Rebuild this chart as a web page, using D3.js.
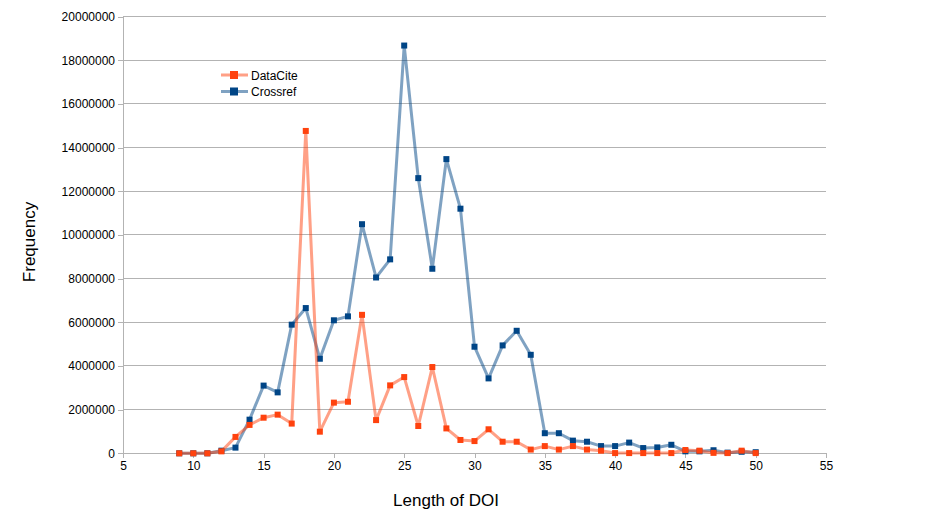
<!DOCTYPE html>
<html><head><meta charset="utf-8">
<script src="https://cdn.jsdelivr.net/npm/d3@7"></script>
<style>body{margin:0;background:#fff}svg{display:block;font-family:"Liberation Sans",Arial,sans-serif}</style>
</head><body><svg id="c" width="943" height="530"></svg>
<script>
const lengths = [9,10,11,12,13,14,15,16,17,18,19,20,21,22,23,24,25,26,27,28,29,30,31,32,33,34,35,36,37,38,39,40,41,42,43,44,45,46,47,48,49,50];
const dataciteValues = [0,0,0,90000,750000,1300000,1630000,1770000,1360000,14760000,990000,2320000,2360000,6340000,1520000,3110000,3490000,1250000,3950000,1140000,610000,560000,1100000,530000,530000,170000,330000,170000,330000,170000,120000,10000,10000,10000,10000,10000,150000,120000,20000,10000,120000,10000];
const crossrefValues = [0,0,0,120000,260000,1540000,3100000,2790000,5890000,6650000,4330000,6090000,6270000,10490000,8050000,8880000,18670000,12600000,8450000,13470000,11200000,4880000,3430000,4940000,5610000,4510000,920000,920000,580000,530000,330000,330000,490000,240000,270000,390000,90000,90000,140000,30000,70000,50000];
const xTicks = [5,10,15,20,25,30,35,40,45,50,55];
const yTicks = [0,2000000,4000000,6000000,8000000,10000000,12000000,14000000,16000000,18000000,20000000];
const seriesNames = ["DataCite","Crossref"];

const svg = d3.select("#c");
const x = d3.scaleLinear().domain([5,55]).range([123,826]);
const y = d3.scaleLinear().domain([0,20000000]).range([453.3,16.5]);

// gridlines
svg.append("g").selectAll("line").data(yTicks).join("line")
  .attr("x1",123).attr("x2",826).attr("y1",d=>y(d)).attr("y2",d=>y(d))
  .attr("stroke","#b3b3b3").attr("stroke-width",1).attr("shape-rendering","crispEdges");

// y axis
const ya = svg.append("g").attr("transform","translate(123,0)")
  .call(d3.axisLeft(y).tickValues(yTicks).tickFormat(d3.format("d")).tickSize(5).tickPadding(3));
ya.selectAll("path,line").attr("stroke","#b3b3b3").attr("shape-rendering","crispEdges");
ya.selectAll("text").attr("font-size","12px").attr("fill","#000").attr("font-family","Liberation Sans, Arial, sans-serif");

// x axis
const xa = svg.append("g").attr("transform",`translate(0,${y(0)})`)
  .call(d3.axisBottom(x).tickValues(xTicks).tickFormat(d3.format("d")).tickSize(5).tickPadding(3));
xa.selectAll("path,line").attr("stroke","#b3b3b3").attr("shape-rendering","crispEdges");
xa.selectAll("text").attr("font-size","12px").attr("fill","#000").attr("font-family","Liberation Sans, Arial, sans-serif");

const series = [
  {name:seriesNames[0], values:dataciteValues, line:"#ff420e", marker:"#ff420e"},
  {name:seriesNames[1], values:crossrefValues, line:"#004586", marker:"#004586"}
];
const lineGen = d3.line().x(d=>x(d[0])).y(d=>y(d[1]));

[series[1], series[0]].forEach(s=>{
  const pts = lengths.map((l,i)=>[l,s.values[i]]);
  svg.append("path").datum(pts).attr("d",lineGen).attr("fill","none")
    .attr("stroke",s.line).attr("stroke-opacity",0.5).attr("stroke-width",3).attr("stroke-linejoin","round");
  svg.append("g").selectAll("rect").data(pts).join("rect")
    .attr("x",d=>x(d[0])-3).attr("y",d=>y(d[1])-3).attr("width",6).attr("height",6).attr("fill",s.marker);
});

// legend
series.forEach((s,i)=>{
  const ly = 75 + i*16.5;
  svg.append("line").attr("x1",221).attr("x2",248).attr("y1",ly).attr("y2",ly)
    .attr("stroke",s.line).attr("stroke-opacity",0.5).attr("stroke-width",3);
  svg.append("rect").attr("x",230).attr("y",ly-4).attr("width",8).attr("height",8).attr("fill",s.marker);
  svg.append("text").attr("x",251).attr("y",ly+4.5).attr("font-size","12px").text(s.name);
});

// axis titles
svg.append("text").attr("transform","translate(35,242) rotate(-90)").attr("text-anchor","middle")
  .attr("font-size","17px").text("Frequency");
svg.append("text").attr("x",446).attr("y",506).attr("text-anchor","middle")
  .attr("font-size","17px").text("Length of DOI");
</script></body></html>
